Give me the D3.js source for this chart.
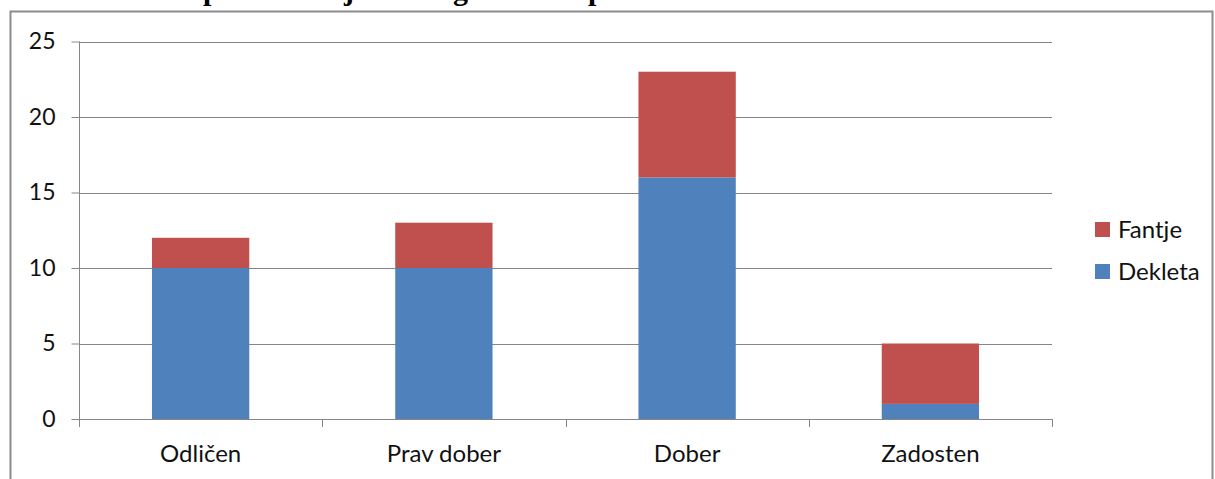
<!DOCTYPE html>
<html><head><meta charset="utf-8">
<script src="https://cdn.jsdelivr.net/npm/d3@7"></script>
<style>
html,body{margin:0;padding:0;background:#fff;}
svg{display:block;}
</style></head>
<body>
<svg id="c" width="1215" height="479"></svg>
<script>
const categories = ["Odličen", "Prav dober", "Dober", "Zadosten"];
const dekleta = [10, 10, 16, 1];
const fantje = [2, 3, 7, 4];
const seriesNames = ["Dekleta", "Fantje"];
const seriesColors = ["#4F81BD", "#C0504D"];
const yTicks = [0, 5, 10, 15, 20, 25];

const svg = d3.select("#c");
const font = "Lato, 'Open Sans', sans-serif";

// partially visible title (cropped above the frame, only descenders show)
const titleGlyphs = [{t:"p",x:203},{t:"j",x:344},{t:"g",x:453},{t:"p",x:588}];
svg.selectAll("text.tg").data(titleGlyphs).join("text")
  .attr("class","tg").attr("x",d=>d.x).attr("y",0)
  .attr("font-family","'Liberation Serif', serif").attr("font-weight","bold")
  .attr("font-size",30).attr("fill","#000").text(d=>d.t);

// outer frame
svg.append("path").attr("d","M10.5,479 L10.5,11.5 L1212.5,11.5 L1212.5,479")
  .attr("fill","none").attr("stroke","#8c8c8c").attr("stroke-width",2);

const x0 = 79, x1 = 1052, yB = 419, yT = 41.5;
const x = d3.scaleBand().domain(categories).range([x0, x1]).paddingInner(0.6).paddingOuter(0.3);
const y = d3.scaleLinear().domain([0, 25]).range([yB, yT]);

// gridlines
svg.append("g").selectAll("line").data(yTicks.filter(d=>d>0)).join("line")
  .attr("x1", x0).attr("x2", x1)
  .attr("y1", d=>Math.round(y(d))+0.5).attr("y2", d=>Math.round(y(d))+0.5)
  .attr("stroke","#868686").attr("stroke-width",1);

// stacked bars
const stackData = categories.map((c,i)=>({cat:c, Dekleta:dekleta[i], Fantje:fantje[i]}));
const stack = d3.stack().keys(seriesNames)(stackData);
svg.append("g").selectAll("g").data(stack).join("g")
  .attr("fill",(d,i)=>seriesColors[i])
  .selectAll("rect").data(d=>d).join("rect")
  .attr("x", d=>x(d.data.cat)).attr("width", x.bandwidth())
  .attr("y", d=>y(d[1])).attr("height", d=>y(d[0])-y(d[1]));

// y axis
const yAxis = svg.append("g").attr("transform",`translate(${x0+0.5},0)`)
  .call(d3.axisLeft(y).tickValues(yTicks).tickSize(8).tickPadding(16).tickFormat(d3.format("d")));
yAxis.select(".domain").attr("stroke","#868686").attr("d",`M0,${yT}V${yB}`);
yAxis.selectAll(".tick line").attr("stroke","#868686");
yAxis.selectAll(".tick text").attr("font-family",font).attr("font-size",23).attr("fill","#111");

// x axis
const xAxisLine = svg.append("g");
xAxisLine.append("line").attr("x1",x0).attr("x2",x1+0.5).attr("y1",yB+0.5).attr("y2",yB+0.5).attr("stroke","#868686");
const bounds = [x0].concat(categories.map(c=>x(c) - x.step()*0.3 + x.step()));
xAxisLine.selectAll("line.t").data(bounds).join("line").attr("class","t")
  .attr("x1",d=>Math.round(d)+0.5).attr("x2",d=>Math.round(d)+0.5)
  .attr("y1",yB).attr("y2",yB+8).attr("stroke","#868686");
svg.append("g").selectAll("text").data(categories).join("text")
  .attr("x", c=>x(c)+x.bandwidth()/2).attr("y", 462)
  .attr("text-anchor","middle").attr("font-family",font).attr("font-size",24).attr("fill","#111")
  .text(c=>c);

// legend
const legendItems = [{name:"Fantje", color:seriesColors[1]}, {name:"Dekleta", color:seriesColors[0]}];
const lg = svg.append("g").selectAll("g").data(legendItems).join("g")
  .attr("transform",(d,i)=>`translate(1095,${222 + i*42})`);
lg.append("rect").attr("width",15).attr("height",15).attr("fill",d=>d.color);
lg.append("text").attr("x",23).attr("y",16).attr("font-family",font).attr("font-size",24).attr("fill","#111").text(d=>d.name);
</script>
</body></html>
